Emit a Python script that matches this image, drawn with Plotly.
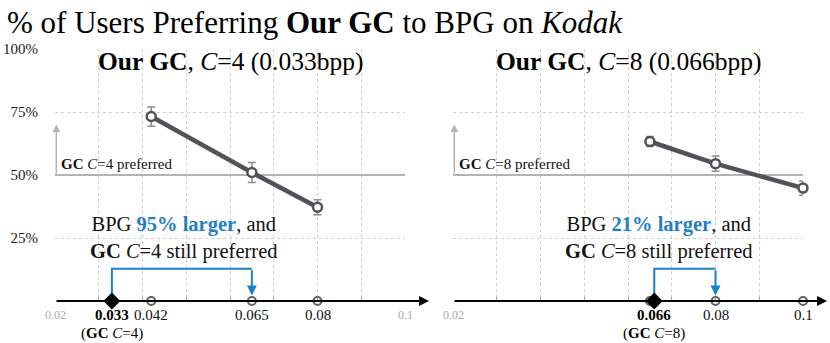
import plotly.graph_objects as go

# bitrates of BPG (bpp) and % of users preferring our GC over BPG
bpp_c4 = [0.042, 0.065, 0.08]
pref_c4 = [73.2, 51.0, 37.2]
err_c4 = [3.8, 4.0, 3.0]
gc_bpp_c4 = 0.033
larger_c4 = "95%"

bpp_c8 = [0.065, 0.08, 0.1]
pref_c8 = [63.3, 54.5, 44.8]
err_c8 = [2.0, 3.0, 2.8]
gc_bpp_c8 = 0.066
larger_c8 = "21%"

x_ticks = [0.02, 0.03, 0.04, 0.05, 0.06, 0.07, 0.08, 0.09, 0.1]
y_ticks = [25, 50, 75, 100]
y_ticktext = ["25%", "50%", "75%", "100%"]

# tick labels drawn under each axis
labels_c4 = ["0.02", "0.042", "0.065", "0.08", "0.1"]
labels_c4_x = [0.02, 0.042, 0.065, 0.08, 0.1]
labels_c4_grey = [True, False, False, False, True]
labels_c8 = ["0.02", "0.08", "0.1"]
labels_c8_x = [0.02, 0.08, 0.1]
labels_c8_grey = [True, False, False]

SERIF = "Liberation Serif, Times New Roman, DejaVu Serif, serif"
BLUE = "#1f80c4"
LINE = "#50535a"
GREY = "#b3b3b3"

fig = go.Figure()


def add_panel(n, c, bpp, pref, err, gc_bpp, larger, lab, lab_x, lab_grey, note_x):
    xa = "x" if n == 1 else "x2"
    ya = "y" if n == 1 else "y2"

    # "preferred" level line and arrow
    fig.add_trace(go.Scatter(x=[x_ticks[0], x_ticks[-1]], y=[50, 50], mode="lines",
                             line=dict(color=GREY, width=2), xaxis=xa, yaxis=ya,
                             hoverinfo="skip", showlegend=False))
    fig.add_annotation(x=x_ticks[0] + 0.0003, y=70, ax=x_ticks[0] + 0.0003, ay=50,
                       xref=xa, yref=ya, axref=xa, ayref=ya, text="", showarrow=True,
                       arrowhead=2, arrowsize=1, arrowwidth=1.5, arrowcolor=GREY)
    fig.add_annotation(x=x_ticks[0] + 0.0010, y=50, xref=xa, yref=ya, xanchor="left",
                       yanchor="bottom", yshift=1, showarrow=False,
                       text=f"<b>GC</b> <i>C</i>={c} preferred",
                       font=dict(family=SERIF, size=15, color="#111"))

    # blue bracket from GC bitrate to the BPG bitrate still beaten
    target = bpp[1]
    fig.add_trace(go.Scatter(x=[gc_bpp, gc_bpp, target], y=[0, 12.8, 12.8], mode="lines",
                             line=dict(color=BLUE, width=2), xaxis=xa, yaxis=ya,
                             hoverinfo="skip", showlegend=False, cliponaxis=False))
    fig.add_annotation(x=target, y=2.2, ax=target, ay=12.8, xref=xa, yref=ya,
                       axref=xa, ayref=ya, text="", showarrow=True, arrowhead=2,
                       arrowsize=1, arrowwidth=2, arrowcolor=BLUE)

    # black bpp axis with arrow
    fig.add_annotation(x=0.1055, y=0, ax=x_ticks[0], ay=0, xref=xa, yref=ya,
                       axref=xa, ayref=ya, text="", showarrow=True, arrowhead=2,
                       arrowsize=1, arrowwidth=2, arrowcolor="black")
    fig.add_annotation(x=0.101, y=0, xref=xa, yref=ya, text="[bpp]", showarrow=False,
                       xanchor="center", yanchor="bottom", yshift=3,
                       font=dict(family=SERIF, size=15, color="#111"))

    # BPG points on the axis, GC point as diamond
    fig.add_trace(go.Scatter(x=bpp, y=[0] * len(bpp), mode="markers",
                             marker=dict(symbol="circle", size=8, color="white",
                                         line=dict(color="#5f6166", width=2)),
                             xaxis=xa, yaxis=ya, cliponaxis=False, showlegend=False))
    fig.add_trace(go.Scatter(x=[gc_bpp], y=[0], mode="markers",
                             marker=dict(symbol="diamond", size=13, color="black"),
                             xaxis=xa, yaxis=ya, cliponaxis=False, showlegend=False))

    # preference curve
    fig.add_trace(go.Scatter(x=bpp, y=pref, mode="lines+markers",
                             line=dict(color=LINE, width=4.5),
                             marker=dict(symbol="circle", size=9, color="white",
                                         line=dict(color=LINE, width=2.5)),
                             error_y=dict(type="data", array=err, color="#8c8c8c",
                                          thickness=1.5, width=4),
                             xaxis=xa, yaxis=ya, cliponaxis=False, showlegend=False))

    # tick labels
    for t, tx, g in zip(lab, lab_x, lab_grey):
        fig.add_annotation(x=tx, y=0.0845, xref=xa, yref="paper", text=t, showarrow=False,
                           xanchor="center", yanchor="middle",
                           font=dict(family=SERIF, size=12 if g else 15,
                                     color="#aaaaaa" if g else "#111"))
    fig.add_annotation(x=gc_bpp, y=0.0845, xref=xa, yref="paper", text=f"<b>{gc_bpp}</b>",
                       showarrow=False, xanchor="center", yanchor="middle",
                       font=dict(family=SERIF, size=15, color="black"))
    fig.add_annotation(x=gc_bpp, y=0.029, xref=xa, yref="paper",
                       text=f"(<b>GC</b> <i>C</i>={c})", showarrow=False,
                       xanchor="center", yanchor="middle",
                       font=dict(family=SERIF, size=15, color="black"))

    # panel heading
    fig.add_annotation(x=0.06, y=0.84, xref=xa, yref="paper", showarrow=False,
                       xanchor="center", yanchor="middle",
                       text=f"<b>Our GC</b>, <i>C</i>={c} ({gc_bpp}bpp)",
                       font=dict(family=SERIF, size=25.5, color="black"))

    # note
    fig.add_annotation(x=note_x, y=12.8, xref=xa, yref=ya, yanchor="bottom", yshift=4,
                       xanchor="center", showarrow=False, align="center",
                       text=f"BPG <span style='color:{BLUE}'><b>{larger} larger</b></span>, and"
                            f"<br><b>GC</b> <i>C</i>={c} still preferred",
                       font=dict(family=SERIF, size=20.5, color="#111"))


add_panel(1, 4, bpp_c4, pref_c4, err_c4, gc_bpp_c4, larger_c4,
          labels_c4, labels_c4_x, labels_c4_grey, 0.0495)
add_panel(2, 8, bpp_c8, pref_c8, err_c8, gc_bpp_c8, larger_c8,
          labels_c8, labels_c8_x, labels_c8_grey, 0.0671)

xaxis_style = dict(range=[0.02, 0.1], tickvals=x_ticks, showticklabels=False,
                   showgrid=True, gridcolor="#d0d0d0", griddash="dot", gridwidth=1,
                   zeroline=False, showline=False, ticks="inside", ticklen=4,
                   tickcolor="#999999")
yaxis_style = dict(range=[0, 100], tickvals=y_ticks, ticktext=y_ticktext,
                   showgrid=True, gridcolor="#d0d0d0", griddash="dot", gridwidth=1,
                   zeroline=False, showline=False,
                   tickfont=dict(family=SERIF, size=15, color="#222"))

fig.update_layout(
    width=830, height=343,
    margin=dict(l=0, r=0, t=0, b=0),
    plot_bgcolor="white", paper_bgcolor="white",
    xaxis=dict(domain=[55 / 830, 405 / 830], anchor="y", **xaxis_style),
    xaxis2=dict(domain=[453 / 830, 803 / 830], anchor="y2", **xaxis_style),
    yaxis=dict(domain=[43 / 343, 301 / 343], anchor="x", ticklabelstandoff=16, **yaxis_style),
    yaxis2=dict(domain=[43 / 343, 301 / 343], anchor="x2", showticklabels=False,
                **yaxis_style),
    showlegend=False,
)

fig.add_annotation(x=0.006, y=0.958, xref="paper", yref="paper", xanchor="left",
                   yanchor="middle", showarrow=False,
                   text="% of Users Preferring <b>Our GC</b> to BPG on <i>Kodak</i>",
                   font=dict(family=SERIF, size=31, color="black"))

fig.write_html("out.html", config={"displayModeBar": False},
               post_script="document.body.style.margin='0';")
